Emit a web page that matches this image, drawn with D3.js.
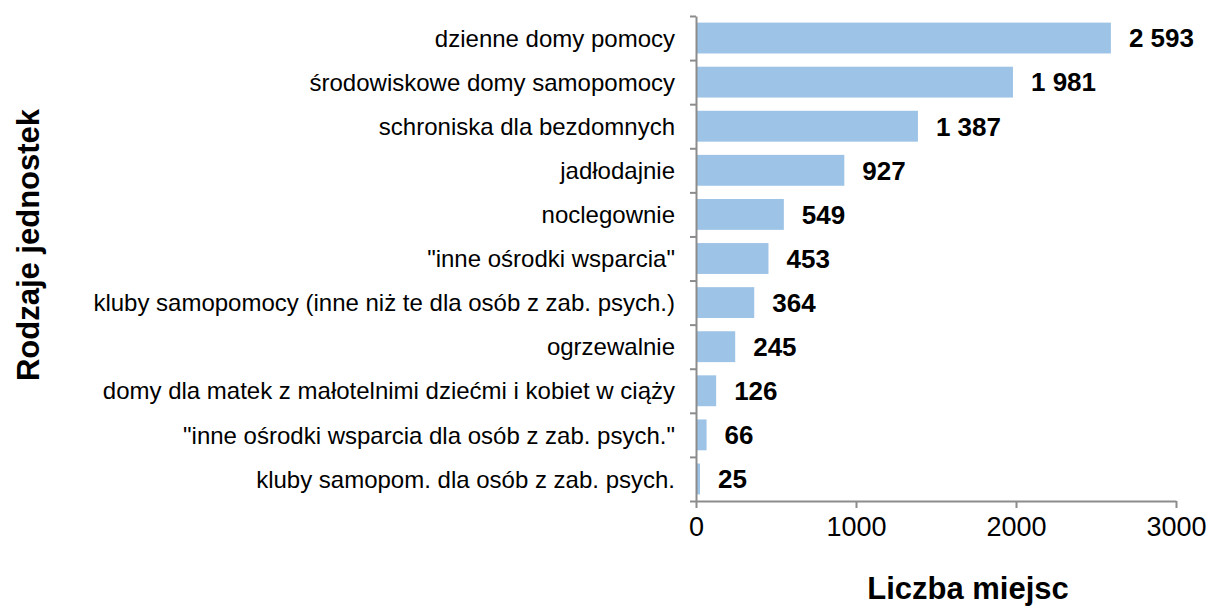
<!doctype html>
<html lang="pl">
<head>
<meta charset="utf-8" />
<title>Liczba miejsc</title>
<script src="https://cdn.jsdelivr.net/npm/d3@7"></script>
<style>
  body { margin: 0; background: #fff; }
  svg text { font-family: Arial, "Liberation Sans", sans-serif; }
</style>
</head>
<body>
<script>
// data
var categories = [
  "dzienne domy pomocy",
  "środowiskowe domy samopomocy",
  "schroniska dla bezdomnych",
  "jadłodajnie",
  "noclegownie",
  "\"inne ośrodki wsparcia\"",
  "kluby samopomocy (inne niż te dla osób z zab. psych.)",
  "ogrzewalnie",
  "domy dla matek z małotelnimi dziećmi i kobiet w ciąży",
  "\"inne ośrodki wsparcia dla osób z zab. psych.\"",
  "kluby samopom. dla osób z zab. psych."
];
var values = [2593, 1981, 1387, 927, 549, 453, 364, 245, 126, 66, 25];
var xTicks = [0, 1000, 2000, 3000];

var w = 1210, h = 607;
var plotLeft = 696, plotRight = 1176, plotTop = 16, plotBottom = 501;
var barColor = "#9dc3e6";
var axisColor = "#8c8c8c";

var plFormat = d3.formatLocale({ decimal: ",", thousands: "\u00a0", grouping: [3], currency: ["", " zł"] }).format(",d");

var svg = d3.select("body").append("svg")
  .attr("width", w)
  .attr("height", h);

var x = d3.scaleLinear().domain([0, 3000]).range([plotLeft, plotRight]);
var y = d3.scaleBand().domain(categories).range([plotTop, plotBottom]).paddingInner(0.3).paddingOuter(0.15);
var yEdge = d3.scaleLinear().domain([0, categories.length]).range([plotTop, plotBottom]);

// bars
svg.selectAll("rect.bar")
  .data(values)
  .enter()
  .append("rect")
  .attr("class", "bar")
  .attr("x", x(0))
  .attr("y", function(d, i) { return y(categories[i]); })
  .attr("width", function(d) { return x(d) - x(0); })
  .attr("height", y.bandwidth())
  .attr("fill", barColor);

// value labels
svg.selectAll("text.val")
  .data(values)
  .enter()
  .append("text")
  .attr("class", "val")
  .attr("x", function(d) { return x(d) + 18; })
  .attr("y", function(d, i) { return y(categories[i]) + y.bandwidth() / 2; })
  .attr("dy", "0.36em")
  .attr("font-size", "26px")
  .attr("font-weight", "bold")
  .attr("fill", "#000")
  .text(function(d) { return plFormat(d); });

// category labels
svg.selectAll("text.cat")
  .data(categories)
  .enter()
  .append("text")
  .attr("class", "cat")
  .attr("x", plotLeft - 21)
  .attr("y", function(d) { return y(d) + y.bandwidth() / 2; })
  .attr("dy", "0.36em")
  .attr("text-anchor", "end")
  .attr("font-size", "24px")
  .attr("fill", "#000")
  .text(function(d) { return d; });

// y axis with ticks on category boundaries
var yAxis = svg.append("g")
  .attr("transform", "translate(" + plotLeft + ",0)")
  .call(d3.axisLeft(yEdge).tickValues(d3.range(categories.length + 1)).tickFormat("").tickSize(6).tickSizeOuter(0));

// x axis
var xAxis = svg.append("g")
  .attr("transform", "translate(0," + plotBottom + ")")
  .call(d3.axisBottom(x).tickValues(xTicks).tickFormat(d3.format("d")).tickSize(7).tickSizeOuter(0).tickPadding(9));

[yAxis, xAxis].forEach(function(g) {
  g.select(".domain").attr("stroke", axisColor).attr("stroke-width", 2);
  g.selectAll(".tick line").attr("stroke", axisColor).attr("stroke-width", 2);
});
xAxis.selectAll(".tick text")
  .attr("font-size", "27px")
  .attr("fill", "#000");

// axis titles
svg.append("text")
  .attr("transform", "translate(39,245) rotate(-90)")
  .attr("text-anchor", "middle")
  .attr("font-size", "31px")
  .attr("font-weight", "bold")
  .text("Rodzaje jednostek");

svg.append("text")
  .attr("x", 968)
  .attr("y", 599)
  .attr("text-anchor", "middle")
  .attr("font-size", "31px")
  .attr("font-weight", "bold")
  .text("Liczba miejsc");
</script>
</body>
</html>
